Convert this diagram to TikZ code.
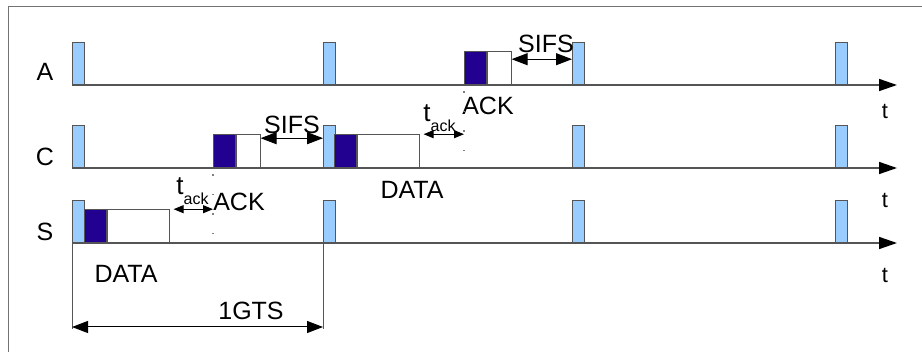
\documentclass[tikz,border=0pt]{standalone}
\usepackage{fontspec}
\setmainfont{Liberation Sans}
\usetikzlibrary{positioning,arrows.meta}
\definecolor{beaconblue}{HTML}{99CCFF}
\definecolor{headerblue}{HTML}{220090}
\definecolor{edgegray}{HTML}{555555}

\tikzstyle{beacon}=[draw=edgegray,fill=beaconblue,minimum width=6pt,minimum height=21pt,inner sep=0pt,anchor=south west]
\tikzstyle{header}=[draw=edgegray,fill=headerblue,minimum width=11pt,minimum height=16.5pt,inner sep=0pt,anchor=south west]
\tikzstyle{ack body}=[draw=edgegray,fill=white,minimum width=12pt,minimum height=16.5pt,inner sep=0pt]
\tikzstyle{data body}=[draw=edgegray,fill=white,minimum width=31pt,minimum height=16.5pt,inner sep=0pt]
\tikzstyle{timeline}=[draw=edgegray,line width=0.75pt,-{Triangle[length=9pt,width=6pt,black]}]
\tikzstyle{gap}=[draw,line width=0.5pt,{Triangle[length=8pt,width=6pt]}-{Triangle[length=8pt,width=6pt]}]
\tikzstyle{short gap}=[draw,line width=0.5pt,{Triangle[length=5pt,width=4pt]}-{Triangle[length=5pt,width=4pt]}]
\tikzstyle{guide}=[draw,gray,line width=0.8pt,dash pattern=on 0.8pt off 9pt,dash phase=-3pt]
\tikzstyle{station}=[font=\fontsize{12.5}{14}\selectfont]
\tikzstyle{tick}=[font=\fontsize{11}{13}\selectfont]
\newcommand{\tackl}{{\fontsize{13}{15}\selectfont t}\raisebox{-5pt}{\fontsize{8}{9}\selectfont ack}}

\begin{document}
\begin{tikzpicture}[x=0.5pt,y=-0.5pt]
     \useasboundingbox (0,0) rectangle (922,352);
     \draw[black!55] (922,6) -| (8,352);

     % First we draw the time lines of the stations
     \foreach \row/\ypos/\ly/\ty in {A/85/72/111, C/168/157/200, S/243/232/275}
     {
       \coordinate (o\row) at (72,\ypos);
       \coordinate (e\row) at (897,\ypos);
       \path[timeline] (o\row) -- (e\row);
       \node[station] (l\row) at (45,\ly) {\row};
       \node[tick] (t\row) at (885,\ty) {t};
     }

     % Beacons at the start of every GTS
     \foreach \pos/\name in {{(72,85)/bA1}, {(323,85)/bA2}, {(572,85)/bA3}, {(835,85)/bA4},
       {(72,168)/bC1}, {(323,168)/bC2}, {(572,168)/bC3}, {(835,168)/bC4},
       {(72,243)/bS1}, {(323,243)/bS2}, {(572,243)/bS3}, {(835,243)/bS4}}
     \node[beacon] (\name) at \pos {};

     % Then the frames: header + body
     \node[header] (hS) at (84,243) {};
     \node[data body, right=0pt of hS] (dS) {};
     \node[header] (hC1) at (213,168) {};
     \node[ack body, right=0pt of hC1] (aC) {};
     \node[header] (hC2) at (334,168) {};
     \node[data body, right=0pt of hC2] (dC) {};
     \node[header] (hA) at (464,85) {};
     \node[ack body, right=0pt of hA] (aA) {};

     % Frame labels
     \node[station] (dataS) at (126,274) {DATA};
     \node[station] (ackS) at (239,202) {ACK};
     \node[station] (dataC) at (412,190) {DATA};
     \node[station] (ackA) at (488,106) {ACK};
     \node[station] (sifsCl) at (292,125) {SIFS};
     \node[station] (sifsAl) at (546,44) {SIFS};
     \node[inner sep=0pt,anchor=base west] (tackS) at (176,195) {\tackl};
     \node[inner sep=0pt,anchor=base west] (tackC) at (423,122) {\tackl};

     % Guides below the ACK frames
     \coordinate (gS) at (213,236);
     \coordinate (gC) at (464,156);
     \path[guide] (hC1.south west) -- (gS);
     \path[guide] (hA.south west) -- (gC);

     % Gaps between the frames
     \path ([xshift=2pt]dS.north east) coordinate (tS);
     \path[short gap] (tS) -- (tS -| hC1.west);
     \path ([yshift=-2pt]aC.north east) coordinate (sC);
     \path[gap] (sC) -- (sC -| bC2.west);
     \path ([xshift=2pt]dC.north east) coordinate (tC);
     \path[short gap] (tC) -- (tC -| hA.west);
     \path ([yshift=-4pt]aA.north east) coordinate (sA);
     \path[gap] (sA) -- (sA -| bA3.west);

     % Length of one GTS
     \coordinate (gtsL) at (72,329);
     \coordinate (gtsR) at (323,329);
     \draw[edgegray] (bS1.south west) -- (gtsL);
     \draw[edgegray] (bS2.south west) -- (gtsR);
     \path[gap] ([yshift=1pt]gtsL) -- ([yshift=1pt]gtsR);
     \node[station] (gts) at (251,311) {1GTS};
\end{tikzpicture}
\end{document}
